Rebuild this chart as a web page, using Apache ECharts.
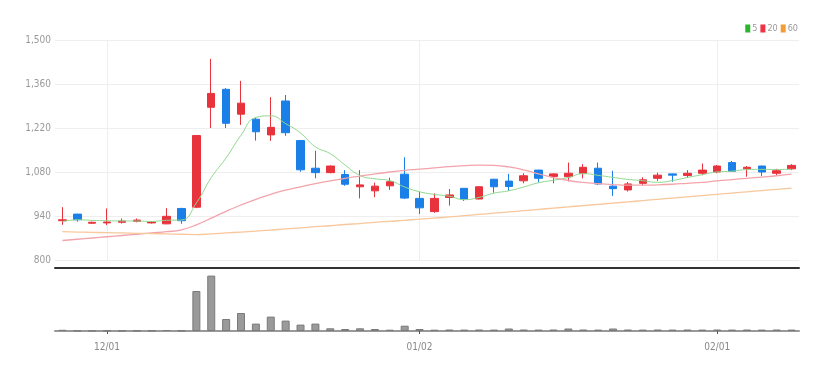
<!DOCTYPE html>
<html><head><meta charset="utf-8">
<script src="https://cdn.jsdelivr.net/npm/echarts@6/dist/echarts.min.js"></script>
<style>html,body{margin:0;padding:0;background:#fff}#c{width:834px;height:372px}</style>
</head><body><div id="c"></div>
<script>
const dates = ["11/28","11/29","11/30","12/01","12/02","12/05","12/06","12/07","12/08","12/09",
"12/12","12/13","12/14","12/15","12/16","12/19","12/20","12/21","12/22","12/23",
"12/26","12/27","12/28","12/29","01/02","01/03","01/04","01/05","01/06","01/09",
"01/10","01/11","01/12","01/13","01/16","01/17","01/18","01/19","01/20","01/25",
"01/26","01/27","01/30","01/31","02/01","02/02","02/03","02/06","02/07","02/08"];
const opens  = [925,946,917,918,920,923,918,915,964,968,1286,1343,1264,1248,1198,1306,1180,1092,1078,1072,1033,1020,1036,1073,996,954,999,1028,994,1057,1051,1052,1086,1066,1065,1076,1092,1035,1023,1044,1060,1074,1069,1076,1080,1110,1090,1099,1076,1090];
const closes = [928,928,920,921,924,927,921,939,925,1196,1330,1235,1299,1208,1222,1205,1087,1078,1099,1041,1039,1035,1049,997,966,996,1007,994,1033,1033,1034,1068,1060,1074,1076,1095,1042,1027,1042,1055,1070,1070,1076,1086,1099,1082,1095,1080,1084,1101];
const lows   = [912,922,915,911,916,920,916,914,915,965,1220,1220,1230,1180,1179,1195,1081,1060,1076,1036,996,1000,1023,994,946,950,973,988,993,1014,1020,1044,1047,1044,1050,1060,1039,1004,1018,1038,1052,1049,1062,1070,1076,1080,1065,1067,1070,1086];
const highs  = [968,947,922,964,932,932,924,965,966,1196,1440,1347,1370,1252,1318,1325,1181,1148,1101,1086,1086,1046,1062,1127,1017,1012,1026,1029,1035,1058,1074,1076,1087,1076,1110,1105,1110,1084,1048,1063,1078,1075,1086,1107,1102,1115,1099,1100,1090,1105];
const ma5  = [922,928,926,925,924.2,924,922.6,926.4,927.2,981.6,1062.2,1125,1197,1253.6,1258.8,1233.8,1204.2,1160,1138.2,1102,1068.8,1058.4,1052.6,1032.2,1017.2,1008.6,1003,992,999.2,1012.6,1020.2,1032.4,1045.6,1053.8,1062.4,1074.6,1069.4,1062.8,1056.4,1052.2,1047.2,1052.8,1062.6,1071.4,1080.2,1082.6,1087.6,1088.4,1088,1088.4];
const ma20 = [862,866,870,874,878,882,886,890,896,912,933,955,975,993,1009,1022,1033,1043,1052,1060,1067,1074,1080,1085,1089,1093,1097,1100,1102,1101,1096,1087,1074,1062,1053,1047,1043,1040,1038,1038,1039,1041,1044,1047,1052,1056,1060,1064,1068,1073];
const ma60 = [890,889,888,887,886,885,884,883,882,881,883,886,889,892,895,899,902,906,909,913,916,920,923,926,930,933,937,941,945,949,953,957,961,965,969,973,977,981,985,989,993,997,1001,1005,1009,1013,1017,1021,1025,1029];
const volumes = [12000,3000,3000,3000,3000,3000,3000,10000,4000,400000,554000,120000,180000,74000,144000,104000,64000,74000,27000,20000,27000,20000,13000,53000,20000,13000,15000,14000,15000,14000,25000,15000,14000,15000,25000,15000,14000,25000,15000,14000,15000,14000,15000,14000,15000,14000,15000,14000,15000,14000];
const yTicks = [800,1500,140];
const shownDates = ["12/01","01/02","02/01"];

const font = "'Liberation Sans Narrow','DejaVu Sans Condensed',sans-serif";
const RED = '#e8323c', BLUE = '#1b7fe8';
const candleData = dates.map((d,i)=>[opens[i],closes[i],lows[i],highs[i]]);
const showFn = (i, v) => shownDates.indexOf(v) >= 0;

const chart = echarts.init(document.getElementById('c'));
chart.setOption({
  animation:false,
  backgroundColor:'#fff',
  legend:{
    data:['5','20','60'], top:19, right:31, icon:'rect', itemWidth:5, itemHeight:8, itemGap:3,
    textStyle:{fontSize:9, color:'#999', fontFamily:font, padding:[0,0,0,-3]}
  },
  grid:[
    {left:55, right:35, top:40, height:220},
    {left:55, right:35, top:273, height:58}
  ],
  xAxis:[
    {type:'category', gridIndex:0, data:dates, boundaryGap:true, offset:8,
     axisLine:{lineStyle:{color:'#333', width:2}}, axisTick:{show:false}, axisLabel:{show:false},
     splitLine:{show:false}},
    {type:'category', gridIndex:1, data:dates, boundaryGap:true,
     axisLine:{lineStyle:{color:'#999', width:2}},
     axisTick:{show:true, interval:showFn, alignWithLabel:true, length:3, lineStyle:{color:'#555'}},
     axisLabel:{interval:showFn, color:'#888', fontSize:10, fontFamily:font, margin:11},
     splitLine:{show:false}}
  ],
  yAxis:[
    {type:'value', gridIndex:0, min:yTicks[0], max:yTicks[1], interval:yTicks[2],
     axisLine:{show:false}, axisTick:{show:false},
     axisLabel:{color:'#999', fontSize:10, fontFamily:font, margin:4,
       formatter:v=>v.toLocaleString('en-US')},
     splitLine:{lineStyle:{color:'#eee'}}},
    {type:'value', gridIndex:1, min:0, max:580000,
     axisLine:{show:false}, axisTick:{show:false}, axisLabel:{show:false}, splitLine:{show:false}}
  ],
  series:[
    {type:'line', name:'grid-v', data:[], xAxisIndex:0, yAxisIndex:0, z:0, silent:true,
     markLine:{silent:true, z:0, symbol:'none', label:{show:false},
       lineStyle:{color:'#eee', type:'solid', width:1},
       data:shownDates.map(d=>({xAxis:d}))}},
    {type:'candlestick', name:'price', xAxisIndex:0, yAxisIndex:0, data:candleData, barWidth:8, z:3,
     itemStyle:{color:RED, color0:BLUE, borderColor:RED, borderColor0:BLUE, borderWidth:1}},
    {type:'line', name:'5', data:ma5, xAxisIndex:0, yAxisIndex:0, symbol:'none', smooth:true, z:4,
     itemStyle:{color:'#2db52d'}, lineStyle:{color:'#8ed88e', width:1}},
    {type:'line', name:'20', data:ma20, xAxisIndex:0, yAxisIndex:0, symbol:'none', smooth:true, z:4,
     itemStyle:{color:'#ee3344'}, lineStyle:{color:'#f3a4ab', width:1.3}},
    {type:'line', name:'60', data:ma60, xAxisIndex:0, yAxisIndex:0, symbol:'none', smooth:true, z:4,
     itemStyle:{color:'#f39c33'}, lineStyle:{color:'#f8c79b', width:1.3}},
    {type:'bar', name:'vol', data:volumes, xAxisIndex:1, yAxisIndex:1, barWidth:8,
     itemStyle:{color:'#9a9a9a', borderColor:'#7a7a7a', borderWidth:1}}
  ]
});
</script>
</body></html>
